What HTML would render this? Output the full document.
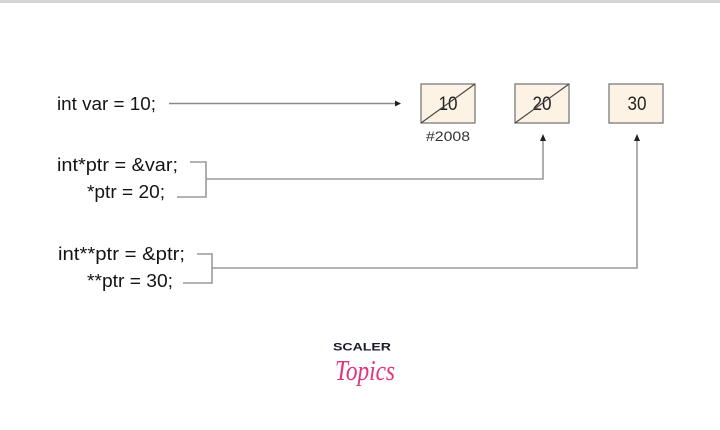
<!DOCTYPE html>
<html>
<head>
<meta charset="utf-8">
<style>
  html, body { margin: 0; padding: 0; background: #ffffff; }
  body { width: 720px; height: 430px; overflow: hidden; position: relative; }
  svg { display: block; position: absolute; left: 0; top: 0; }
</style>
</head>
<body>
<svg width="720" height="430" viewBox="0 0 720 430" xmlns="http://www.w3.org/2000/svg">
  <rect x="0" y="0" width="720" height="430" fill="#ffffff"/>
  <rect x="0" y="0" width="720" height="3" fill="#d5d5d5"/>

  <g font-family="'Liberation Sans', Arial, sans-serif" fill="#151515" font-size="18.5">
    <text x="57" y="110" textLength="99" lengthAdjust="spacingAndGlyphs">int var = 10;</text>
    <text x="57" y="171" textLength="121" lengthAdjust="spacingAndGlyphs">int*ptr = &amp;var;</text>
    <text x="87" y="198" textLength="78" lengthAdjust="spacingAndGlyphs">*ptr = 20;</text>
    <text x="58" y="260" textLength="127" lengthAdjust="spacingAndGlyphs">int**ptr = &amp;ptr;</text>
    <text x="87" y="287" textLength="86" lengthAdjust="spacingAndGlyphs">**ptr = 30;</text>
  </g>

  <!-- boxes -->
  <g stroke="#7a7a7a" stroke-width="1.3" fill="#fdf3e5">
    <rect x="421" y="84" width="54" height="39"/>
    <rect x="515" y="84" width="54" height="39"/>
    <rect x="609" y="84" width="54" height="39"/>
  </g>
  <g font-family="'Liberation Sans', Arial, sans-serif" fill="#222222" font-size="19" text-anchor="middle">
    <text x="448" y="110" textLength="19" lengthAdjust="spacingAndGlyphs">10</text>
    <text x="542" y="110" textLength="19" lengthAdjust="spacingAndGlyphs">20</text>
    <text x="637" y="110" textLength="19" lengthAdjust="spacingAndGlyphs">30</text>
  </g>
  <g stroke="#444444" stroke-width="1.1">
    <line x1="421" y1="123" x2="475" y2="84"/>
    <line x1="515" y1="123" x2="569" y2="84"/>
  </g>
  <text x="448" y="141" font-family="'Liberation Sans', Arial, sans-serif" font-size="13.5" fill="#333333" text-anchor="middle" textLength="44" lengthAdjust="spacingAndGlyphs">#2008</text>

  <!-- arrow 1 -->
  <line x1="169" y1="103.5" x2="396" y2="103.5" stroke="#8a8a8a" stroke-width="1.4"/>
  <polygon points="401,103.5 395,100.5 395,106.5" fill="#222222"/>

  <!-- bracket 1 -->
  <g stroke="#9a9a9a" stroke-width="1.6" fill="none">
    <polyline points="190,162 206,162 206,197 177,197"/>
    <polyline points="206,179 543,179 543,140"/>
  </g>
  <polygon points="543,134 540,141 546,141" fill="#222222"/>

  <!-- bracket 2 -->
  <g stroke="#9a9a9a" stroke-width="1.6" fill="none">
    <polyline points="197,254 212,254 212,283 183,283"/>
    <polyline points="212,268 637,268 637,140"/>
  </g>
  <polygon points="637,134 634,141 640,141" fill="#222222"/>

  <!-- logo -->
  <text x="362" y="350.5" font-family="'Liberation Sans', Arial, sans-serif" font-weight="bold" font-size="11" fill="#1a1a2e" text-anchor="middle" textLength="58" lengthAdjust="spacingAndGlyphs">SCALER</text>
  <text x="365" y="380" font-family="'Liberation Serif', serif" font-style="italic" font-size="28" fill="#e0337c" text-anchor="middle" textLength="60" lengthAdjust="spacingAndGlyphs">Topics</text>
</svg>
</body>
</html>
